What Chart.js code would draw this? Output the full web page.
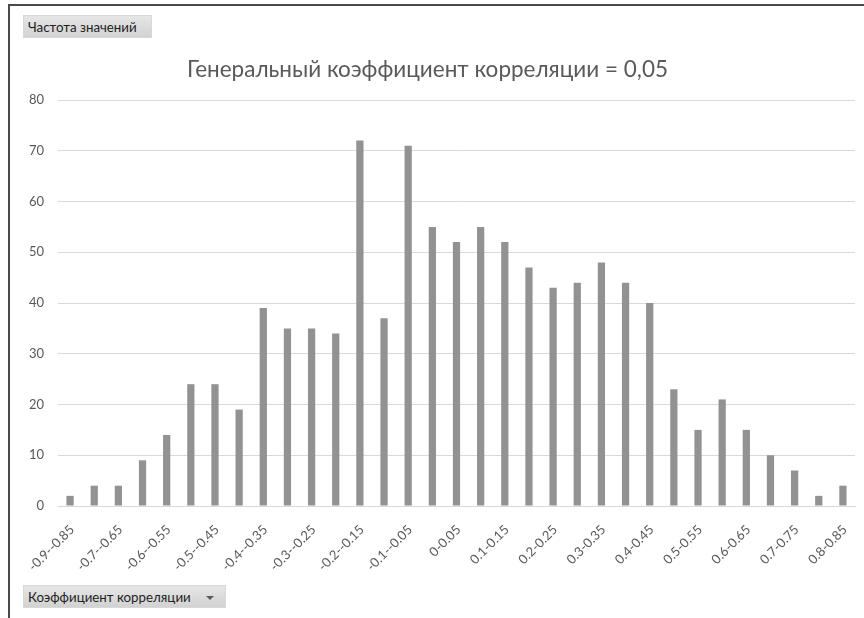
<!DOCTYPE html>
<html lang="ru">
<head>
<meta charset="utf-8">
<title>Частота значений</title>
<script src="https://cdn.jsdelivr.net/npm/chart.js@4.4.1/dist/chart.umd.min.js"></script>
<style>
  html, body { margin: 0; padding: 0; background: #ffffff; }
  #wrap { position: relative; width: 864px; height: 618px; overflow: hidden; }
  #frame {
    position: absolute; left: 8px; top: 4px; right: -4px; bottom: -4px;
    border-left: 2px solid #4a4a4a; border-top: 2px solid #4a4a4a;
    pointer-events: none;
  }
  canvas { position: absolute; left: 0; top: 0; }
  .field {
    position: absolute; height: 23px; box-sizing: border-box;
    font: 13.3px Lato, "Noto Sans", sans-serif; color: #1e1e1e;
    line-height: 22px; padding-left: 4px;
    background: linear-gradient(#e6e6e6, #d2d2d2);
    border: 1px solid #d8d8d8;
  }
  #fieldY { left: 23px; top: 15px; width: 129px; }
  #fieldX { left: 23px; top: 585px; width: 203px; }
  #fieldX .arrow {
    position: absolute; right: 11px; top: 10px; width: 0; height: 0;
    border-left: 4px solid transparent; border-right: 4px solid transparent;
    border-top: 4px solid #5a5a5a;
  }
</style>
</head>
<body>
<div id="wrap">
  <canvas id="chart" width="864" height="618"></canvas>
  <div id="frame"></div>
  <div class="field" id="fieldY">Частота значений</div>
  <div class="field" id="fieldX">Коэффициент корреляции<span class="arrow"></span></div>
</div>
<script>
// Интервалы коэффициента корреляции (пустые интервалы в сводной таблице отсутствуют)
const categories = [
  '-0.9--0.85', '-0.75--0.7', '-0.7--0.65', '-0.65--0.6', '-0.6--0.55',
  '-0.55--0.5', '-0.5--0.45', '-0.45--0.4', '-0.4--0.35', '-0.35--0.3',
  '-0.3--0.25', '-0.25--0.2', '-0.2--0.15', '-0.15--0.1', '-0.1--0.05',
  '-0.05-0', '0-0.05', '0.05-0.1', '0.1-0.15', '0.15-0.2',
  '0.2-0.25', '0.25-0.3', '0.3-0.35', '0.35-0.4', '0.4-0.45',
  '0.45-0.5', '0.5-0.55', '0.55-0.6', '0.6-0.65', '0.65-0.7',
  '0.7-0.75', '0.75-0.8', '0.8-0.85'
];

// Частота значений в каждом интервале
const counts = [
  2, 4, 4, 9, 14,
  24, 24, 19, 39, 35,
  35, 34, 72, 37, 71,
  55, 52, 55, 52, 47,
  43, 44, 48, 44, 40,
  23, 15, 21, 15, 10,
  7, 2, 4
];

// Деления оси значений
const yTicks = [0, 10, 20, 30, 40, 50, 60, 70, 80];

const chartTitle = 'Генеральный коэффициент корреляции = 0,05';

const fontFamily = 'Lato, "Noto Sans", sans-serif';
const textColor = '#595959';
const gridColor = '#d9d9d9';

new Chart(document.getElementById('chart'), {
  type: 'bar',
  data: {
    labels: categories,
    datasets: [{
      label: 'Частота значений',
      data: counts,
      backgroundColor: '#929292',
      borderWidth: 0,
      categoryPercentage: 1,
      barPercentage: 0.3
    }]
  },
  options: {
    responsive: false,
    animation: false,
    layout: { padding: { left: 0, right: 9, top: 0, bottom: 0 } },
    plugins: {
      legend: { display: false },
      tooltip: { enabled: false },
      title: {
        display: true,
        text: chartTitle,
        color: textColor,
        font: { family: fontFamily, size: 22.5, weight: 'normal' },
        padding: { top: 56.5, bottom: 16.5 }
      }
    },
    scales: {
      x: {
        grid: { display: false },
        border: { display: true, color: gridColor, width: 1 },
        ticks: {
          autoSkip: false,
          minRotation: 45,
          maxRotation: 45,
          padding: 8,
          labelOffset: 2,
          color: textColor,
          font: { family: fontFamily, size: 13 },
          callback: function (value, index) {
            return index % 2 === 0 ? this.getLabelForValue(value) : '';
          }
        },
        afterFit: function (scale) { scale.height = 112; }
      },
      y: {
        min: yTicks[0],
        max: yTicks[yTicks.length - 1],
        afterBuildTicks: function (scale) {
          scale.ticks = yTicks.map(v => ({ value: v }));
        },
        grid: { color: gridColor, lineWidth: 1, drawTicks: false },
        border: { display: false },
        ticks: {
          padding: 14,
          color: textColor,
          font: { family: fontFamily, size: 13 }
        },
        afterFit: function (scale) { scale.width = 58; }
      }
    }
  }
});
</script>
</body>
</html>
